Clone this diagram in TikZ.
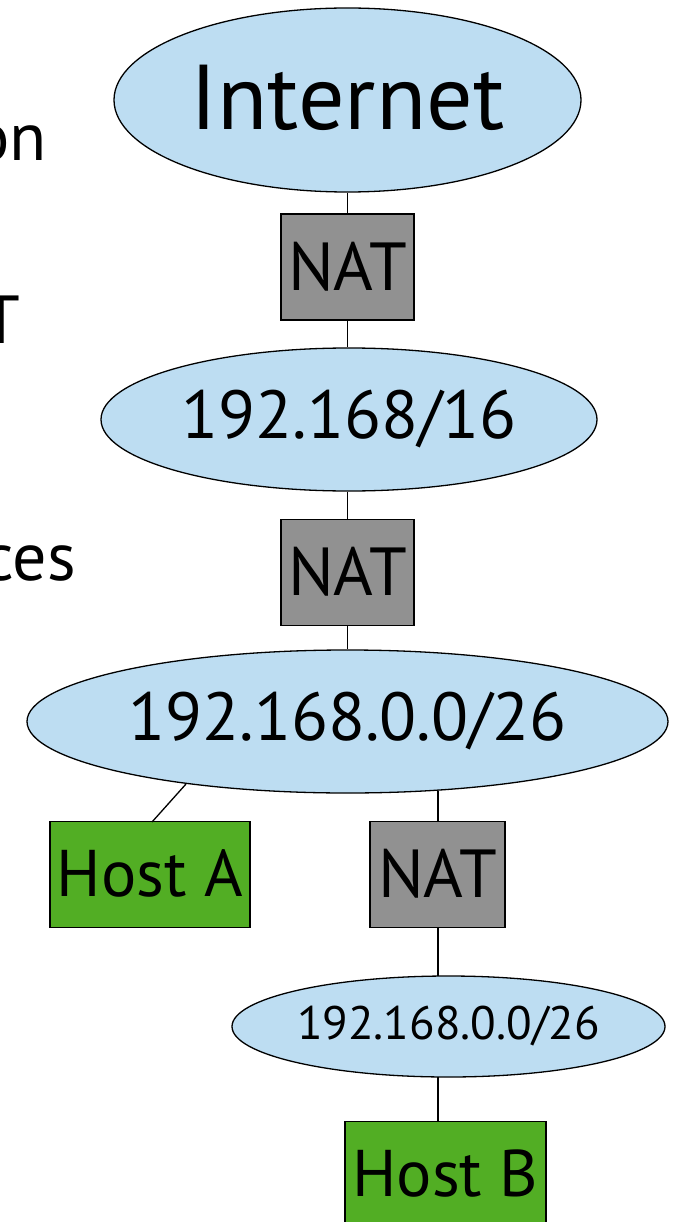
\documentclass[tikz,border=0pt]{standalone}
\usepackage{fontspec}
\setmainfont{PT Sans}
\usetikzlibrary{shapes.geometric}
\definecolor{netblue}{HTML}{BDDDF2}
\definecolor{natgray}{HTML}{919191}
\definecolor{hostgreen}{HTML}{52AE24}
\tikzset{
  net/.style={ellipse, draw=black, line width=1.3pt, fill=netblue, inner sep=0pt},
  natbox/.style={rectangle, draw=black, line width=1.3pt, fill=natgray, inner sep=0pt, minimum width=133pt, minimum height=106pt, font=\fontsize{68}{70}\selectfont},
  hostbox/.style={rectangle, draw=black, line width=1.3pt, fill=hostgreen, inner sep=0pt, minimum height=106pt, font=\fontsize{66}{70}\selectfont},
  link/.style={line width=1.3pt, draw=black},
  slidetext/.style={font=\fontsize{68}{70}\selectfont, inner sep=0pt}
}
\begin{document}
\begin{tikzpicture}[x=1pt,y=-1pt]
\useasboundingbox (0,0) rectangle (675,1222);
\clip (0,0) rectangle (675,1222);
% partial slide text on the left
\node[slidetext, anchor=base east] (t1) at (47,161) {on};
\node[slidetext, anchor=base east] (t2) at (20,343) {T};
\node[slidetext, anchor=base east] (t3) at (76,580) {ces};
% nodes
\node[net, minimum width=467pt, minimum height=184pt, font=\fontsize{92}{94}\selectfont] (inet) at (347.5,100) {\raisebox{5pt}{Internet}};
\node[natbox] (nat1) at (347.5,267) {\raisebox{2pt}{NAT}};
\node[net, minimum width=496pt, minimum height=143pt, font=\fontsize{68}{70}\selectfont] (n16) at (349,419.5) {192.168/16};
\node[natbox] (nat2) at (347.5,572.5) {\raisebox{2pt}{NAT}};
\node[net, minimum width=641pt, minimum height=143pt, font=\fontsize{68}{70}\selectfont] (n26) at (347.5,721.5) {192.168.0.0/26};
\node[hostbox, minimum width=200pt] (hosta) at (150,874.5) {\raisebox{2pt}{Host A}};
\node[natbox, minimum width=135pt] (nat3) at (437.5,874.5) {\raisebox{2pt}{NAT}};
\node[net, minimum width=433pt, minimum height=101pt, font=\fontsize{47}{49}\selectfont] (n26b) at (448.5,1026.5) {192.168.0.0/26};
\node[hostbox, minimum width=201pt] (hostb) at (445.5,1174.5) {\raisebox{2pt}{Host B}};
% links
\draw[link] (inet.south) -- (nat1.north);
\draw[link] (nat1.south) -- (nat1.south |- n16.north);
\draw[link] (nat2.north |- n16.south) -- (nat2.north);
\draw[link] (nat2.south) -- (n26.north);
\coordinate (a1) at (186,784);
\coordinate (a2) at (152,822);
\draw[link] (a1) -- (a2);
\coordinate (b1) at (438,791);
\draw[link] (b1) -- (b1 |- nat3.north);
\draw[link] (438,927) -- (438,976);
\draw[link] (438,1077) -- (438,1121);
\end{tikzpicture}
\end{document}
